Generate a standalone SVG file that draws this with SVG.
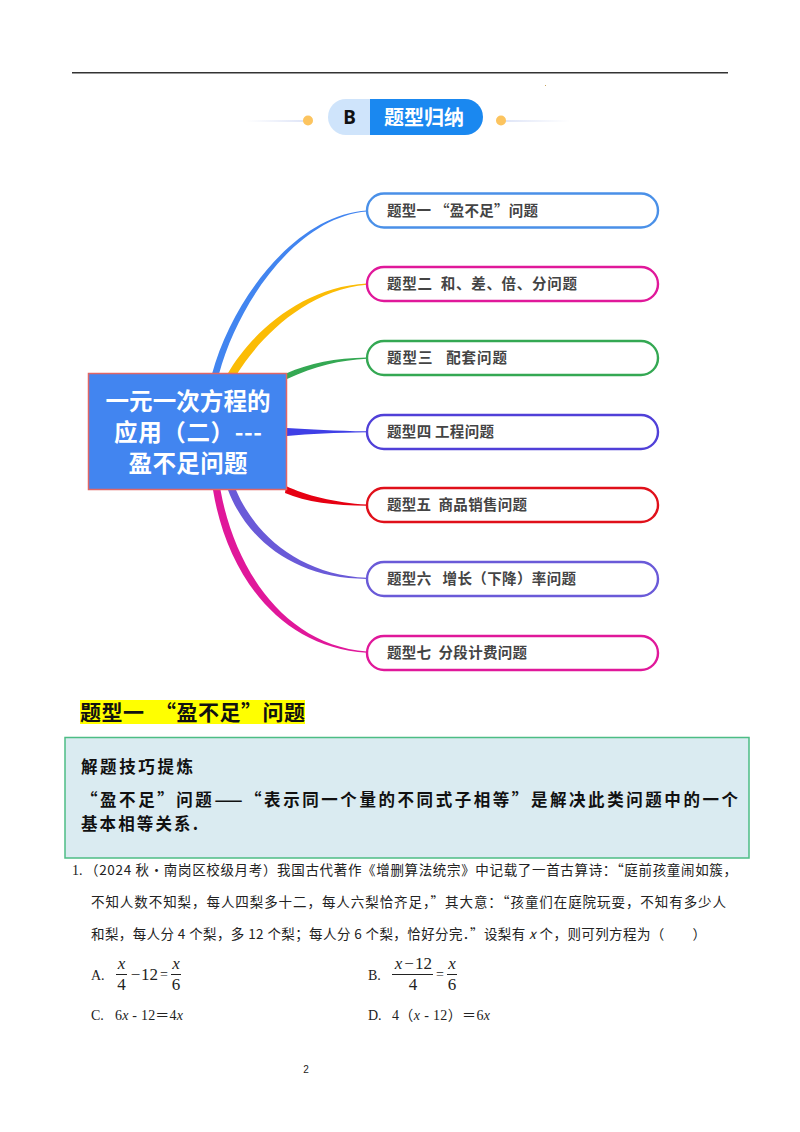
<svg xmlns="http://www.w3.org/2000/svg" width="800" height="1132" viewBox="0 0 800 1132">
<style>
text{font-family:"Noto Sans CJK SC","Liberation Sans",sans-serif}
.pill{fill:#fff;stroke-width:2.4}
.lbl{font-size:14.500px;font-weight:700;fill:#444;white-space:pre}
.ctr{font-size:23.500px;font-weight:700;fill:#fff;text-anchor:middle;white-space:pre}
.body{font-size:13.500px;fill:#222;white-space:pre}
.call{font-size:16.500px;font-weight:700;fill:#111;white-space:pre}
.ser{font-family:"Liberation Serif","Noto Sans CJK SC",serif;font-size:14px;fill:#222;white-space:pre}
.ser2{font-family:"Liberation Serif","Noto Sans CJK SC",serif;font-size:17px;fill:#222;white-space:pre;text-anchor:middle}
.i{font-style:italic}
.fl{stroke:#222;stroke-width:1}
</style>
<defs>
<linearGradient id="gl"><stop offset="0" stop-color="#dfe5f7" stop-opacity="0"/><stop offset="1" stop-color="#dfe5f7"/></linearGradient>
<linearGradient id="gr"><stop offset="0" stop-color="#dfe5f7"/><stop offset="1" stop-color="#dfe5f7" stop-opacity="0"/></linearGradient>
</defs>
<rect width="800" height="1132" fill="#fff"/>
<rect x="72" y="72" width="656" height="1.500" fill="#333"/>
<rect x="545" y="85" width="1" height="1" fill="#c9a45c"/>
<g id="badge">
<rect x="245" y="120" width="60" height="2" fill="url(#gl)"/>
<rect x="505" y="120" width="65" height="2" fill="url(#gr)"/>
<circle cx="308" cy="120.500" r="5" fill="#fcc45f"/>
<circle cx="501" cy="120.500" r="5" fill="#fcc45f"/>
<path d="M370,99H346a18,18 0 0 0 0,36H370Z" fill="#cfe4fb"/>
<path d="M370,99H465a18,18 0 0 1 0,36H370Z" fill="#1a88f0"/>
<text x="349.500" y="124" font-size="19" font-weight="700" fill="#111" text-anchor="middle" style="font-family:'Noto Sans','Liberation Sans',sans-serif">B</text>
<text x="384" y="125" font-size="20" font-weight="700" fill="#fff" textLength="80">题型归纳</text>
</g>
<g id="connectors">
<path d="M212,374C232,300 295,215 367,210.500V211.500C297,217 238,303 219,374Z" fill="#4285f0"/>
<path d="M227.500,374C250,335 300,287 367,283.500V284.800C305,290 258,340 237,374Z" fill="#fbbc05"/>
<path d="M286,373.500C310,363 335,358 367,357.500V358.700C340,360 315,366 287,379Z" fill="#34a853"/>
<path d="M287,428C310,429.500 335,431 367,431.300V432.300C335,432.500 310,434 287,436Z" fill="#3f3fe6"/>
<path d="M286,486C305,495 335,503 367,504.500V505.800C335,505.500 305,502 285,493Z" fill="#e60012"/>
<path d="M236,490C255,535 300,575 367,577.700V578.900C295,579 247,540 228,490Z" fill="#6a5ad8"/>
<path d="M220.500,490C235,570 285,645 367,651.500V652.700C280,648 227,575 213,490Z" fill="#e0189a"/>
</g>
<g id="center">
<rect x="88.500" y="373.500" width="198" height="116" fill="#4285f0" stroke="#e06666" stroke-width="1.500"/>
<text class="ctr" x="188" y="410" textLength="165">一元一次方程的</text>
<text class="ctr" x="188" y="441" textLength="148">应用（二）---</text>
<text class="ctr" x="188" y="472" textLength="119">盈不足问题</text>
</g>
<g id="n1"><rect class="pill" x="367" y="193.500" width="291" height="34" rx="17" stroke="#4a90e8"/><text class="lbl" x="387" y="215.500" textLength="151">题型一 “盈不足”问题</text></g>
<g id="n2"><rect class="pill" x="367" y="267" width="291" height="34" rx="17" stroke="#e0189a"/><text class="lbl" x="387" y="289" textLength="190">题型二  和、差、倍、分问题</text></g>
<g id="n3"><rect class="pill" x="367" y="341" width="291" height="34" rx="17" stroke="#34a853"/><text class="lbl" x="387" y="363" textLength="120">题型三   配套问题</text></g>
<g id="n4"><rect class="pill" x="367" y="415" width="291" height="34" rx="17" stroke="#5040d8"/><text class="lbl" x="387" y="437" textLength="107">题型四 工程问题</text></g>
<g id="n5"><rect class="pill" x="367" y="488" width="291" height="34" rx="17" stroke="#e0101a"/><text class="lbl" x="387" y="510" textLength="140">题型五  商品销售问题</text></g>
<g id="n6"><rect class="pill" x="367" y="562" width="291" height="34" rx="17" stroke="#6a5ad8"/><text class="lbl" x="387" y="584" textLength="189">题型六   增长（下降）率问题</text></g>
<g id="n7"><rect class="pill" x="367" y="636" width="291" height="34" rx="17" stroke="#e0189a"/><text class="lbl" x="387" y="658" textLength="140">题型七  分段计费问题</text></g>
<rect x="80" y="700" width="225" height="24" fill="#ffff00"/>
<text x="80" y="719.500" font-size="21" font-weight="700" fill="#111" style="white-space:pre" textLength="225">题型一  “盈不足”问题</text>
<rect x="65" y="737.500" width="684" height="120.500" fill="#daebf1" stroke="#4dbd85" stroke-width="1.500"/>
<text class="call" x="81" y="773" textLength="112">解题技巧提炼</text>
<text class="call" x="81" y="806" textLength="657">“盈不足”问题——“表示同一个量的不同式子相等”是解决此类问题中的一个</text>
<text class="call" x="81" y="830" textLength="117">基本相等关系.</text>
<text class="ser" x="72" y="875">1.</text>
<text class="body" x="85" y="875" textLength="652">（2024 秋•南岗区校级月考）我国古代著作《增删算法统宗》中记载了一首古算诗：“庭前孩童闹如簇，</text>
<text class="body" x="91" y="907" textLength="635">不知人数不知梨，每人四梨多十二，每人六梨恰齐足，”其大意：“孩童们在庭院玩耍，不知有多少人</text>
<text class="body" x="91" y="939" textLength="615">和梨，每人分 4 个梨，多 12 个梨；每人分 6 个梨，恰好分完．”设梨有 <tspan font-style="italic">x</tspan> 个，则可列方程为（　　）</text>
<text class="ser" x="91" y="980">A.</text>
<text class="ser2 i" x="121.500" y="969">x</text><line class="fl" x1="116" x2="127" y1="974.500" y2="974.500"/><text class="ser2" x="121.500" y="990">4</text>
<text class="ser2" x="135.500" y="980">−</text><text class="ser2" x="149.500" y="980">12</text><text class="ser" x="160" y="979">=</text>
<text class="ser2 i" x="176" y="969">x</text><line class="fl" x1="171" x2="181" y1="974.500" y2="974.500"/><text class="ser2" x="176" y="990">6</text>
<text class="ser" x="368" y="980">B.</text>
<text class="ser2 i" x="398.500" y="969">x</text><text class="ser2" x="409" y="969">−</text><text class="ser2" x="423.500" y="969">12</text><line class="fl" x1="392" x2="433" y1="974.500" y2="974.500"/><text class="ser2" x="413" y="990">4</text>
<text class="ser" x="436" y="979">=</text>
<text class="ser2 i" x="452" y="969">x</text><line class="fl" x1="447" x2="457" y1="974.500" y2="974.500"/><text class="ser2" x="452" y="990">6</text>
<text class="ser" x="91" y="1020">C.</text>
<text class="ser" x="115" y="1020" textLength="68">6<tspan class="i">x</tspan> - 12＝4<tspan class="i">x</tspan></text>
<text class="ser" x="368" y="1020">D.</text>
<text class="ser" x="392" y="1020" textLength="98">4（<tspan class="i">x</tspan> - 12）＝6<tspan class="i">x</tspan></text>
<text x="306" y="1073" font-size="10" fill="#222" text-anchor="middle" style="font-family:'Liberation Sans',sans-serif">2</text>
</svg>
